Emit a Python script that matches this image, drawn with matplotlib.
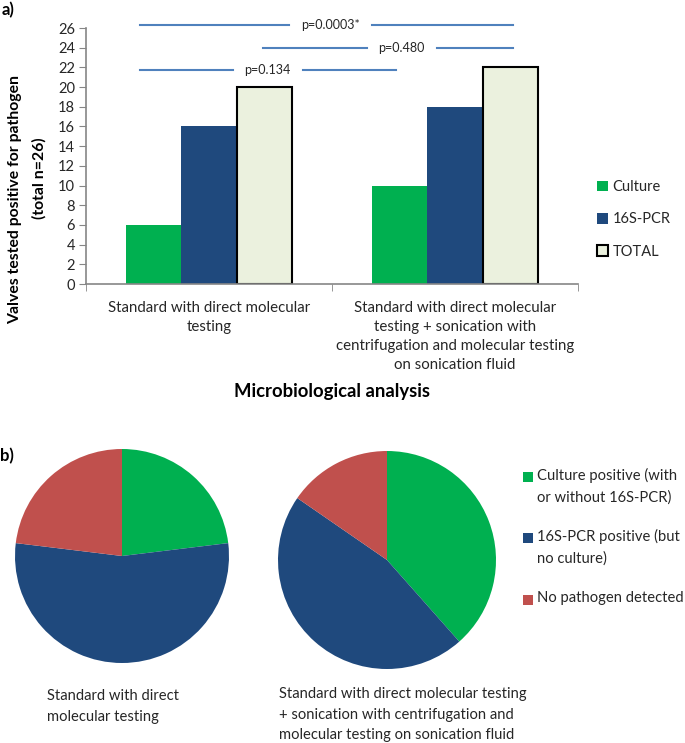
import matplotlib.pyplot as plt
from matplotlib.patches import Patch, Rectangle
import numpy as np

plt.rcParams["font.family"] = ["Lato", "DejaVu Sans"]

# data
groups = ["Standard with direct molecular\ntesting",
          "Standard with direct molecular\ntesting + sonication with\ncentrifugation and molecular testing\non sonication fluid"]
series = ["Culture", "16S-PCR", "TOTAL"]
culture = [6, 10]
pcr16s = [16, 18]
total = [20, 22]
n_total = 26

pie_labels = ["Culture positive (with\nor without 16S-PCR)",
              "16S-PCR positive (but\nno culture)",
              "No pathogen detected"]
pie_standard = [6, 14, 6]
pie_sonication = [10, 12, 4]
pie_titles = ["Standard with direct\nmolecular testing",
              "Standard with direct molecular testing\n+ sonication with centrifugation and\nmolecular testing on sonication fluid"]

p_values = ["p=0.0003*", "p=0.480", "p=0.134"]

green = "#00B050"
blue = "#1F497D"
red = "#C0504D"
light = "#EBF1DE"
pline = "#4F81BD"
grey = "#868686"
txt = "#262626"

W, H = 685, 743
fig = plt.figure(figsize=(W / 100, H / 100), dpi=100)


def box(x0, y0, x1, y1):
    # pixel box (top-left origin) -> figure fraction rect
    return [x0 / W, 1 - y1 / H, (x1 - x0) / W, (y1 - y0) / H]


# ---- a) bar chart
ax = fig.add_axes(box(86, 28, 578, 284))
x = np.arange(len(groups))
bw = 0.224
ax.bar(x - bw, culture, bw, color=green, label=series[0])
ax.bar(x, pcr16s, bw, color=blue, label=series[1])
ax.bar(x + bw, total, bw, color=light, edgecolor="black", linewidth=1.5, label=series[2])

ax.set_xlim(-0.5, 1.5)
ax.set_ylim(0, n_total)
ax.set_yticks(range(0, n_total + 1, 2))
ax.set_xticks(x)
ax.set_xticklabels(groups, fontsize=10.8, color=txt, linespacing=1.45)
ax.set_xticks([-0.5, 0.5, 1.5], minor=True)
ax.tick_params(axis="x", which="major", length=0, pad=12)
ax.tick_params(axis="x", which="minor", length=5, color=grey, direction="out")
ax.tick_params(axis="y", length=5, color=grey, labelsize=10.5, labelcolor=txt, pad=3)
for s in ["top", "right"]:
    ax.spines[s].set_visible(False)
for s in ["left", "bottom"]:
    ax.spines[s].set_color(grey)
    ax.spines[s].set_linewidth(1.2)

# significance lines: (start, gap_left, gap_right, end, text_x, y)
brackets = [(-0.280, 0.325, 0.663, 1.236, 0.492, 26.3),
            (0.220, 0.642, 0.927, 1.236, 0.780, 24.0),
            (-0.280, 0.098, 0.382, 0.760, 0.236, 21.7)]
for (x0, g0, g1, x1, tx, y), lab in zip(brackets, p_values):
    ax.plot([x0, g0], [y, y], color=pline, lw=1.5, clip_on=False)
    ax.plot([g1, x1], [y, y], color=pline, lw=1.5, clip_on=False)
    ax.text(tx, y, lab, ha="center", va="center", fontsize=9, color=txt, clip_on=False)

fig.text(332 / W, 1 - 392 / H, "Microbiological analysis", ha="center", va="center",
         fontsize=13.3, fontweight="bold", color="black")
fig.text(15 / W, 1 - 200 / H, "Valves tested positive for pathogen", rotation=90,
         ha="center", va="center", fontsize=11.3, fontweight="bold")
fig.text(39 / W, 1 - 178 / H, "(total n=26)", rotation=90,
         ha="center", va="center", fontsize=11.3, fontweight="bold")

handles = [Patch(facecolor=green), Patch(facecolor=blue),
           Patch(facecolor=light, edgecolor="black", linewidth=1.5)]
fig.legend(handles, series, loc="upper left", bbox_to_anchor=(584 / W, 1 - 167 / H),
           frameon=False, fontsize=10.5, handlelength=0.75, handleheight=0.75,
           handletextpad=0.3, labelspacing=1.25, labelcolor=txt)

fig.text(2 / W, 1 - 10 / H, "a)", ha="left", va="center", fontsize=12, fontweight="bold")
fig.text(0 / W, 1 - 456 / H, "b)", ha="left", va="center", fontsize=12, fontweight="bold")

# ---- b) pies
pie_cols = [green, blue, red]
for vals, rect in [(pie_standard, box(15, 449, 229, 663)),
                   (pie_sonication, box(278, 451, 496, 669))]:
    pax = fig.add_axes(rect)
    pax.pie(vals, colors=pie_cols, startangle=90, counterclock=False, radius=1,
            wedgeprops=dict(linewidth=0))
    pax.set_xlim(-1, 1)
    pax.set_ylim(-1, 1)
    pax.set_aspect("auto")
    pax.axis("off")

fig.text(47 / W, 1 - 689 / H, pie_titles[0], ha="left", va="top", fontsize=10.6,
         color=txt, linespacing=1.6)
fig.text(279 / W, 1 - 687 / H, pie_titles[1], ha="left", va="top", fontsize=10.6,
         color=txt, linespacing=1.6)

# pie legend, marker aligned with the first line of each entry
for i, (lab, col) in enumerate(zip(pie_labels, pie_cols)):
    yc = [477, 538, 600][i]
    fig.add_artist(Rectangle((523 / W, 1 - (yc + 5) / H), 10 / W, 10 / H,
                             facecolor=col, transform=fig.transFigure))
    fig.text(537 / W, 1 - (yc - 9) / H, lab, ha="left", va="top", fontsize=10.6,
             color=txt, linespacing=1.65)

fig.savefig("out.png", dpi=100)
